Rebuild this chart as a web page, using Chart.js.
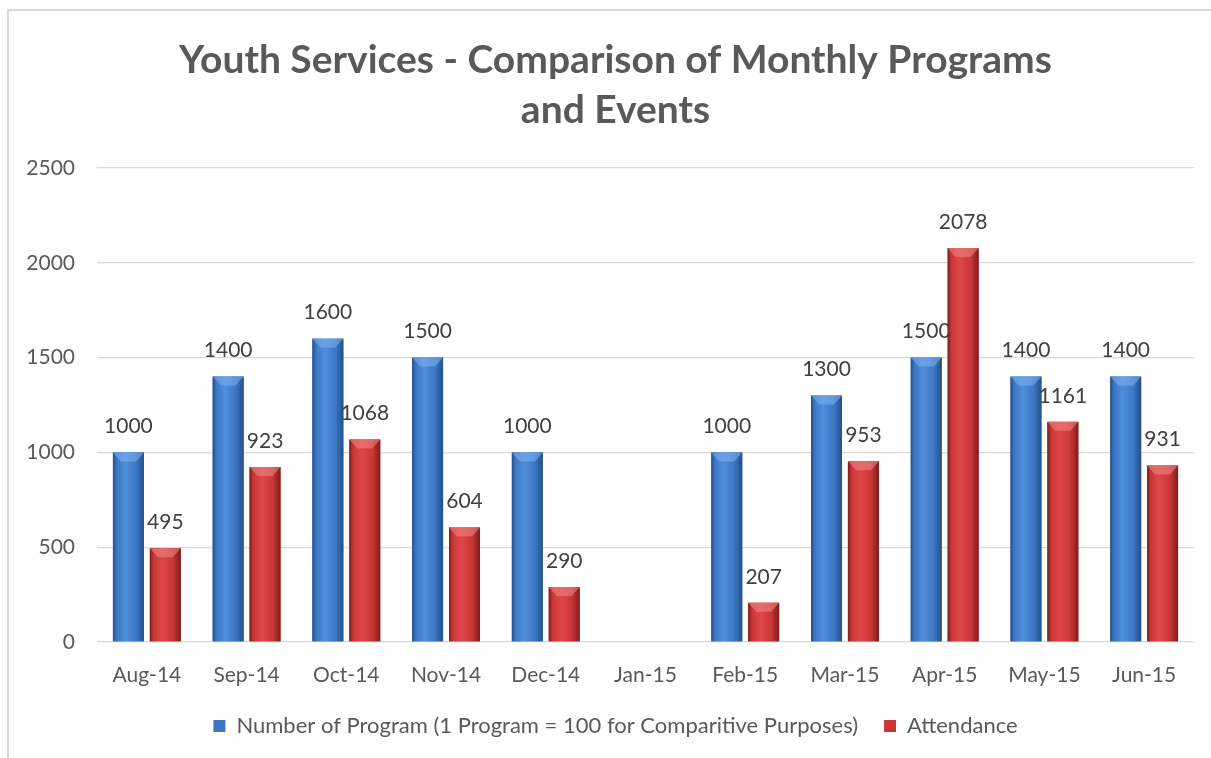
<!DOCTYPE html>
<html><head><meta charset="utf-8">
<script src="https://cdn.jsdelivr.net/npm/chart.js@4.4.1/dist/chart.umd.min.js"></script>
<style>
html,body{margin:0;padding:0;background:#fff;overflow:hidden;width:1211px;height:758px;}
#frame{position:absolute;left:7px;top:9px;width:1300px;height:900px;border:2px solid #d9d9d9;box-sizing:border-box;}
#wrap{position:absolute;left:0;top:0;width:1211px;height:758px;}
</style></head><body>
<div id="frame"></div>
<div id="wrap"><canvas id="c" width="1211" height="758"></canvas></div>
<script>
const categories = ['Aug-14','Sep-14','Oct-14','Nov-14','Dec-14','Jan-15','Feb-15','Mar-15','Apr-15','May-15','Jun-15'];
const programValues = [1000,1400,1600,1500,1000,null,1000,1300,1500,1400,1400];
const attendanceValues = [495,923,1068,604,290,null,207,953,2078,1161,931];
const seriesNames = ['Number of Program (1 Program = 100 for Comparitive Purposes)','Attendance'];
const yTicks = [0,500,1000,1500,2000,2500];
const titleLines = ['Youth Services - Comparison of Monthly Programs','and Events'];

const FONT = 'Lato, "Open Sans", sans-serif';
const shades = [
  {dark:'#264f86', mid:'#3a76c4', light:'#4f8fdc', top:'#7fb3ee'},
  {dark:'#7e1c1c', mid:'#c83636', light:'#e04848', top:'#f08a8a'}
];

const barStyle = {
  id:'barStyle',
  afterDatasetsDraw(chart){
    const ctx = chart.ctx;
    chart.data.datasets.forEach((ds, di) => {
      const meta = chart.getDatasetMeta(di);
      const s = shades[di];
      meta.data.forEach((el, i) => {
        const v = ds.data[i];
        if (v === null || v === undefined) return;
        const p = el.getProps(['x','y','base','width'], true);
        const l = p.x - p.width/2, r = p.x + p.width/2, t = p.y, b = p.base;
        ctx.save();
        const g = ctx.createLinearGradient(l, 0, r, 0);
        g.addColorStop(0, s.dark);
        g.addColorStop(0.12, s.mid);
        g.addColorStop(0.4, s.light);
        g.addColorStop(0.75, s.mid);
        g.addColorStop(1, s.dark);
        ctx.fillStyle = g;
        ctx.fillRect(l, t, r - l, b - t);
        const bh = Math.min(9, (b - t)/2);
        ctx.beginPath();
        ctx.moveTo(l, t); ctx.lineTo(r, t);
        ctx.lineTo(r - 8, t + bh); ctx.lineTo(l + 8, t + bh);
        ctx.closePath();
        ctx.globalAlpha = 0.55;
        ctx.fillStyle = s.top;
        ctx.fill();
        ctx.globalAlpha = 1;
        ctx.fillStyle = '#404040';
        ctx.font = '21px ' + FONT;
        ctx.textAlign = 'center';
        ctx.textBaseline = 'middle';
        ctx.fillText(String(v), p.x, t - 26);
        ctx.restore();
      });
    });
  }
};

new Chart(document.getElementById('c'), {
  type:'bar',
  data:{
    labels:categories,
    datasets:[
      {label:seriesNames[0], data:programValues, backgroundColor:shades[0].mid, borderWidth:0, categoryPercentage:0.74, barPercentage:0.84, yAxisID:'y'},
      {label:seriesNames[1], data:attendanceValues, backgroundColor:shades[1].mid, borderWidth:0, categoryPercentage:0.74, barPercentage:0.84, yAxisID:'y'}
    ]
  },
  options:{
    responsive:false,
    devicePixelRatio:1,
    animation:false,
    layout:{padding:{left:20, right:0, top:0, bottom:11}},
    plugins:{
      title:{display:true, text:titleLines, color:'#595959', font:{family:FONT, size:39, weight:'bold', lineHeight:50/39}, padding:{top:35, bottom:33}},
      legend:{position:'bottom', labels:{color:'#595959', font:{family:FONT, size:22}, boxWidth:12, boxHeight:12, padding:26}},
      tooltip:{enabled:false}
    },
    scales:{
      x:{
        grid:{display:false, drawTicks:false},
        border:{display:false},
        afterFit(s){ s.height = 47; },
        ticks:{color:'#595959', font:{family:FONT, size:21}, padding:21, maxRotation:0}
      },
      y:{
        min:0, max:2500,
        afterBuildTicks(s){ s.ticks = yTicks.map(v => ({value:v})); },
        afterFit(s){ s.width = 77; },
        grid:{color:'#d9d9d9', lineWidth:1.3, drawTicks:false},
        border:{display:false},
        ticks:{color:'#595959', font:{family:FONT, size:21}, padding:22, callback:(v) => String(v)}
      },
      y2:{
        position:'right',
        display:true,
        grid:{display:false, drawTicks:false},
        border:{display:false},
        ticks:{display:false},
        afterFit(s){ s.width = 17; }
      }
    }
  },
  plugins:[barStyle]
});
</script>
</body></html>
